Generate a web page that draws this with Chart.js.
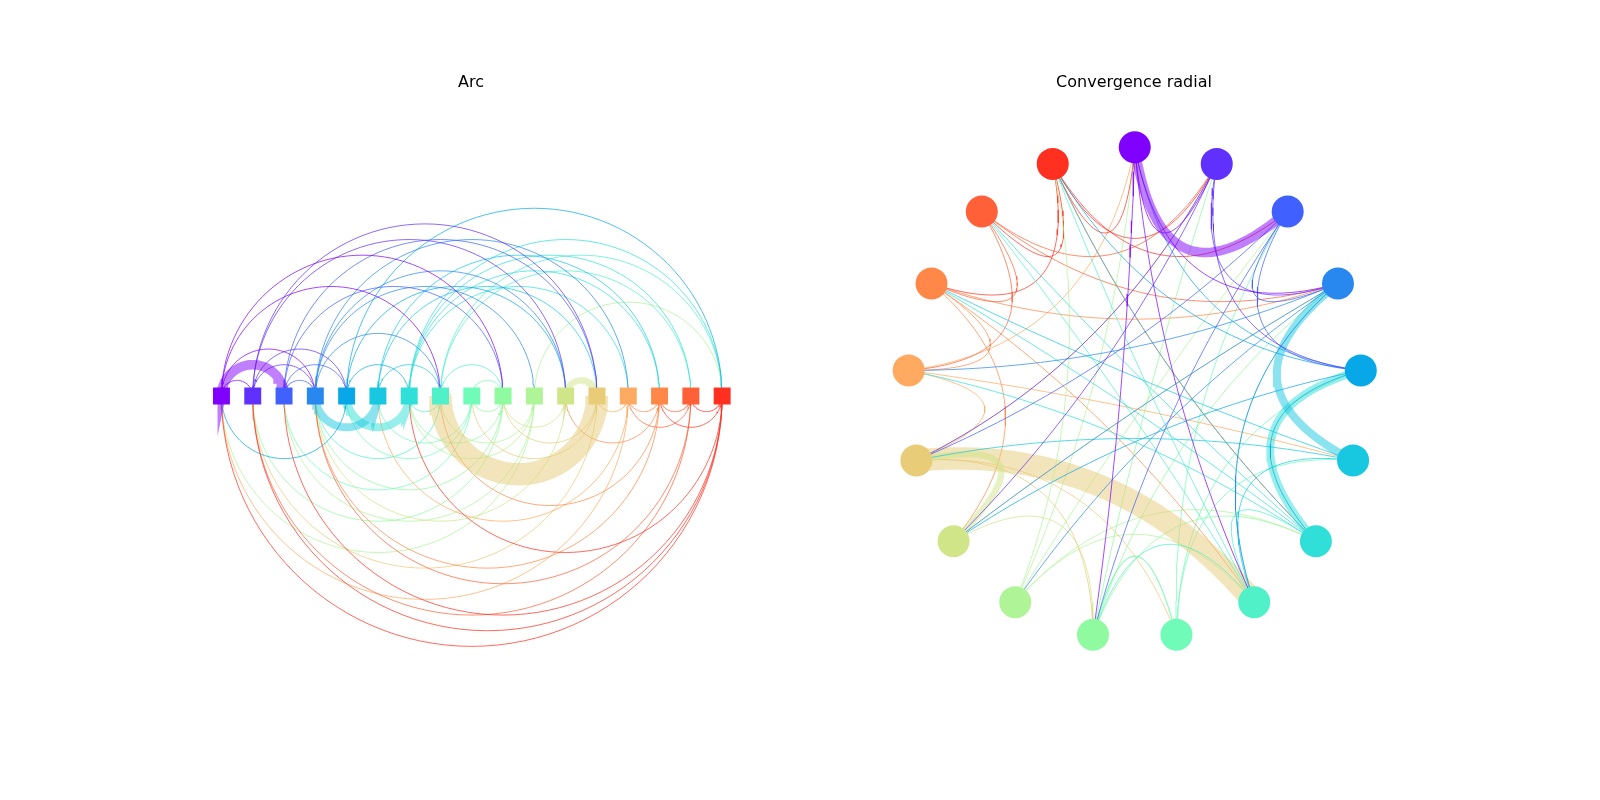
<!DOCTYPE html>
<html><head><meta charset="utf-8">
<script src="https://cdn.jsdelivr.net/npm/chart.js@4"></script>
<style>
body{margin:0;background:#fff;width:1600px;height:800px;position:relative;overflow:hidden;font-family:"DejaVu Sans",sans-serif}
.c{position:absolute;top:0;width:800px;height:800px}
.t{position:absolute;top:72px;font-size:16px;color:#000;transform:translateX(-50%)}
</style></head><body>
<div class="c" style="left:0"><canvas id="a" width="800" height="800"></canvas></div>
<div class="c" style="left:800px"><canvas id="b" width="800" height="800"></canvas></div>
<div class="t" style="left:471px">Arc</div>
<div class="t" style="left:1134px">Convergence radial</div>
<script>
const nodes=[0,1,2,3,4,5,6,7,8,9,10,11,12,13,14,15,16];
const nodeColors=["#8000ff","#6030ff","#4060ff","#2888f0","#08a8e8","#18c8e0","#30e0d8","#50f0c8","#70fcb8","#90faa0","#b0f498","#d0e488","#e8cc78","#ffaa60","#ff8848","#ff6038","#ff3020"];
const edgeSource=[0,0,0,0,0,1,1,1,1,2,2,2,2,3,3,3,3,4,4,4,5,5,5,6,6,6,6,7,7,7,8,10,11,
4,5,6,12,16,16,16,16,16,16,15,15,15,15,14,14,14,14,13,13,13,12,12,12,11,11,10,10,10,10,9,9,9,9,8,8,8,7,7];
const edgeTarget=[1,2,3,7,9,3,4,11,12,3,4,9,12,7,10,11,13,6,16,11,7,14,12,13,14,15,16,9,15,16,9,16,12,
0,3,4,7,0,1,2,6,15,14,1,3,13,14,3,7,11,13,0,5,12,1,8,9,3,9,0,2,6,7,1,3,6,8,2,4,5,6,3];
const edgeWeight=[1,6,1,1,1,1,1,1,1,1,1,1,1,1,1,1,1,1,1,1,1,1,1,1,1,1,1,1,1,1,1,1,4,
1,5,5,14,1,1,1,1,1,1,1,1,1,1,1,1,1,1,1,1,1,1,1,1,1,1,1,1,1,1,1,1,1,1,1,1,1,1,1];
function col(i,a){const h=nodeColors[i];const r=parseInt(h.substr(1,2),16),g=parseInt(h.substr(3,2),16),b=parseInt(h.substr(5,2),16);
return `rgba(${r},${g},${b},${a})`;}
function lw(w){return w>1?w*1.6:0.8}
function al(w){return w>1?0.5:0.9}
const arcSets=[];
edgeSource.forEach((s,k)=>{const t=edgeTarget[k];const c=(s+t)/2,r=Math.abs(t-s)/2;const up=s<t?1:-1;const pts=[];
for(let i=0;i<=60;i++){const th=Math.PI*i/60;pts.push({x:c+r*Math.cos(th),y:up*r*Math.sin(th)});}
arcSets.push({type:'line',data:pts,borderColor:col(s,al(edgeWeight[k])),borderWidth:lw(edgeWeight[k]),pointRadius:0,tension:0,order:2});});
arcSets.push({type:'scatter',data:nodes.map(i=>({x:i,y:0})),pointStyle:'rect',pointRadius:12,
backgroundColor:nodes.map(i=>col(i,1)),borderWidth:0,order:0});
const hid={display:false};
new Chart(document.getElementById('a'),{type:'scatter',data:{datasets:arcSets},options:{responsive:false,animation:false,
layout:{padding:0},plugins:{legend:hid,tooltip:{enabled:false}},
scales:{x:{type:'linear',display:false,min:-6.693,max:18.104},y:{type:'linear',display:false,min:-12.526,max:12.271}}}});
const pos=nodes.map(i=>{const th=2*Math.PI*i/nodes.length;return {x:Math.sin(th),y:Math.cos(th)};});
const radSets=[];
edgeSource.forEach((s,k)=>{const t=edgeTarget[k];const p=pos[s],q=pos[t];const cx=(p.x+q.x)/2*0.35,cy=(p.y+q.y)/2*0.35;const pts=[];
for(let i=0;i<=40;i++){const u=i/40,v=1-u;pts.push({x:v*v*p.x+2*u*v*cx+u*u*q.x,y:v*v*p.y+2*u*v*cy+u*u*q.y});}
radSets.push({type:'line',data:pts,borderColor:col(s,al(edgeWeight[k])),borderWidth:lw(edgeWeight[k]),pointRadius:0,tension:0,order:2});});
radSets.push({type:'scatter',data:pos,pointStyle:'circle',pointRadius:16,backgroundColor:nodes.map(i=>col(i,1)),borderWidth:0,order:0});
new Chart(document.getElementById('b'),{type:'scatter',data:{datasets:radSets},options:{responsive:false,animation:false,
layout:{padding:0},plugins:{legend:hid,tooltip:{enabled:false}},
scales:{x:{type:'linear',display:false,min:-1.404,max:1.979},y:{type:'linear',display:false,min:-1.590,max:1.534}}}});
</script></body></html>
